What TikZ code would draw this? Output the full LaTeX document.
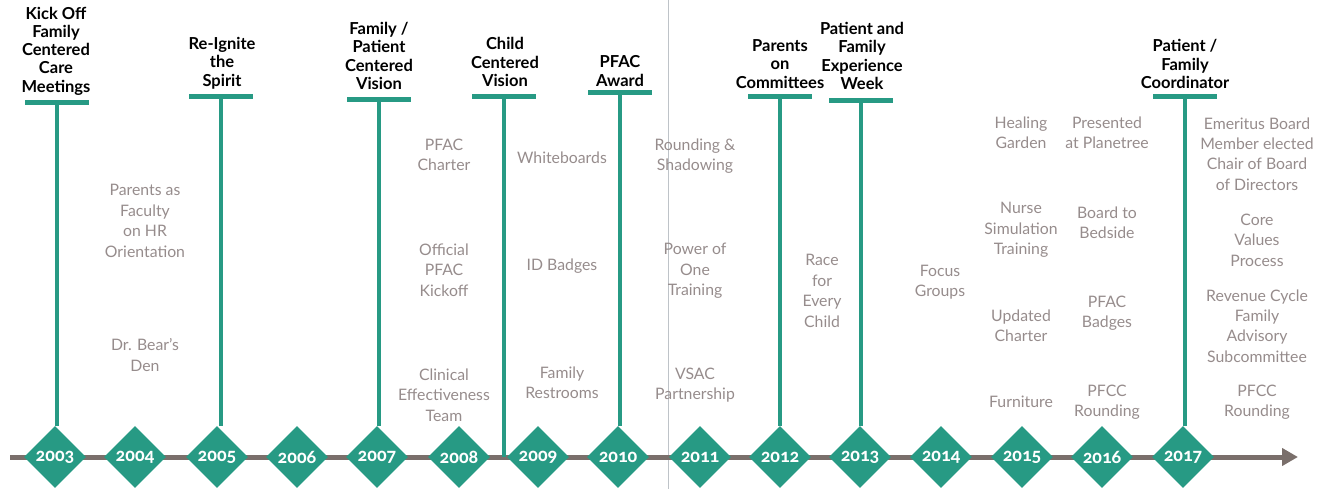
\documentclass[tikz,border=0pt]{standalone}
\usepackage{fontspec}
\setmainfont{Lato}
\newfontfamily\yearfont[Numbers=OldStyle]{Carlito}
\usetikzlibrary{shapes.geometric,arrows.meta}
\definecolor{tealA}{RGB}{39,154,132}
\definecolor{grayT}{RGB}{150,140,140}
\definecolor{axisC}{RGB}{122,111,107}
\definecolor{seamC}{RGB}{190,195,200}
\begin{document}
\begin{tikzpicture}[x=1pt,y=-1pt,
  yearbox/.style={diamond, aspect=1, fill=tealA, minimum width=62pt, minimum height=62pt, inner sep=0pt, text=white, font=\yearfont\bfseries\fontsize{19}{19}\selectfont},
  bar/.style={fill=tealA, minimum width=64pt, minimum height=5pt, inner sep=0pt},
  stem/.style={draw=tealA, line width=3.5pt},
  head/.style={align=center, inner sep=0pt, font=\bfseries\fontsize{16.5}{18.3}\selectfont},
  item/.style={align=center, inner sep=0pt, text=grayT, font=\fontsize{15.8}{20.4}\selectfont},
  axisline/.style={draw=axisC, line width=5pt, -{Triangle[length=16pt,width=17pt]}},
  seam/.style={draw=seamC, line width=1pt}]
\useasboundingbox (0,0) rectangle (1329,489);
% seam
\coordinate (seamtop) at (668,0);
\coordinate (seambot) at (668,489);
\draw[seam] (seamtop) -- (seambot);
% axis
\coordinate (axs) at (10,457);
\coordinate (axe) at (1298,457);
\draw[axisline] (axs) -- (axe);
\coordinate (ax9) at (504,457);
% bars
\node[bar] (b03) at (57,103) {};
\node[bar] (b05) at (221,97) {};
\node[bar] (b07) at (379,100) {};
\node[bar] (bcv) at (504,97) {};
\node[bar] (b10) at (620,93) {};
\node[bar] (b12) at (780,97) {};
\node[bar] (b13) at (861,101) {};
\node[bar] (b17) at (1185,97) {};
% diamonds
\foreach \yr/\xx in {2003/55,2004/135,2005/217,2006/297,2007/377,2008/459,2009/538,2010/618,2011/700,2012/780,2013/860,2014/941,2015/1022,2016/1102,2017/1183}
  \node[yearbox] (y\yr) at (\xx,457) {\yr};
% stems
\draw[stem] (b03.center) -- (b03.center |- y2003.north);
\draw[stem] (b05.center) -- (b05.center |- y2005.north);
\draw[stem] (b07.center) -- (b07.center |- y2007.north);
\draw[stem] (bcv.center) -- (ax9);
\draw[stem] (b10.center) -- (b10.center |- y2010.north);
\draw[stem] (b12.center) -- (y2012.north);
\draw[stem] (b13.center) -- (b13.center |- y2013.north);
\draw[stem] (b17.center) -- (b17.center |- y2017.north);
% bars on top of stems
\foreach \b in {b03,b05,b07,bcv,b10,b12,b13,b17}
  \fill[tealA] ([xshift=-32pt,yshift=2.5pt]\b.center) rectangle ([xshift=32pt,yshift=-2.5pt]\b.center);
% headings
\node[head] (h03) at (56,51) {Kick Off\\Family\\Centered\\Care\\Meetings};
\node[head] (h05) at (222,63) {Re-Ignite\\the\\Spirit};
\node[head] (h07) at (379,56) {Family /\\Patient\\Centered\\Vision};
\node[head] (hcv) at (505,62) {Child\\Centered\\Vision};
\node[head] (h10) at (620,71) {PFAC\\Award};
\node[head] (h12) at (780,64) {Parents\\on\\Committees};
\node[head] (h13) at (862,56) {Patient and\\Family\\Experience\\Week};
\node[head] (h17) at (1185,64) {Patient /\\Family\\Coordinator};
% items
\node[item] (i04a) at (145,221) {Parents as\\Faculty\\on HR\\Orientation};
\node[item] (i04b) at (145,355) {Dr. Bear's\\Den};
\node[item] (i08a) at (444,155) {PFAC\\Charter};
\node[item] (i08b) at (444,270) {Official\\PFAC\\Kickoff};
\node[item] (i08c) at (444,395) {Clinical\\Effectiveness\\Team};
\node[item] (i09a) at (562,158) {Whiteboards};
\node[item] (i09b) at (562,266) {ID Badges};
\node[item] (i09c) at (562,383) {Family\\Restrooms};
\node[item] (i11a) at (695,156) {Rounding \&\\Shadowing};
\node[item] (i11b) at (695,271) {Power of\\One\\Training};
\node[item] (i11c) at (695,385) {VSAC\\Partnership};
\node[item] (i12a) at (822,291) {Race\\for\\Every\\Child};
\node[item] (i14a) at (940,282) {Focus\\Groups};
\node[item] (i15a) at (1021,133) {Healing\\Garden};
\node[item] (i15b) at (1021,230) {Nurse\\Simulation\\Training};
\node[item] (i15c) at (1021,326) {Updated\\Charter};
\node[item] (i15d) at (1021,402) {Furniture};
\node[item] (i16a) at (1107,133) {Presented\\at Planetree};
\node[item] (i16b) at (1107,223) {Board to\\Bedside};
\node[item] (i16c) at (1107,313) {PFAC\\Badges};
\node[item] (i16d) at (1107,402) {PFCC\\Rounding};
\node[item] (i17a) at (1257,154) {Emeritus Board\\Member elected\\Chair of Board\\of Directors};
\node[item] (i17b) at (1257,240) {Core\\Values\\Process};
\node[item] (i17c) at (1257,326) {Revenue Cycle\\Family\\Advisory\\Subcommittee};
\node[item] (i17d) at (1257,402) {PFCC\\Rounding};
\end{tikzpicture}
\end{document}
